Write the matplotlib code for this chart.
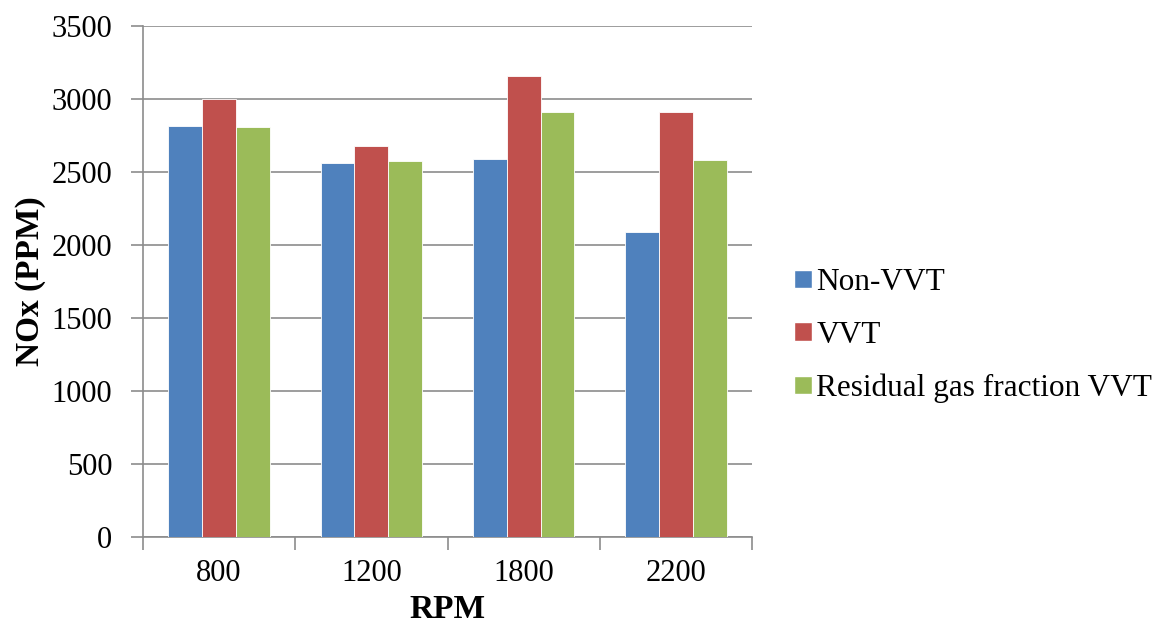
import numpy as np
import matplotlib.pyplot as plt
from matplotlib.patches import Patch

# NOx emissions per engine speed
rpm_labels = ['800', '1200', '1800', '2200']
non_vvt = [2817, 2564, 2591, 2091]
vvt = [3000, 2678, 3155, 2909]
residual_vvt = [2810, 2573, 2913, 2582]

series_names = ['Non-VVT', 'VVT', 'Residual gas fraction VVT']
series_colors = ['#4F81BD', '#C0504D', '#9BBB59']

plt.rcParams['font.family'] = ['Liberation Serif', 'DejaVu Serif']

fig = plt.figure(figsize=(11.67, 6.33), dpi=100)
ax = fig.add_axes([0.1225, 0.1517, 0.522, 0.8072])

x = np.arange(len(rpm_labels))
bar_w = 0.222
for i, (vals, col) in enumerate(zip([non_vvt, vvt, residual_vvt], series_colors)):
    ax.bar(x + (i - 1) * bar_w, vals, width=bar_w, color=col,
           edgecolor='white', linewidth=0.6, zorder=3)

grid_col = '#8c8c8c'
ax.set_ylim(0, 3500)
ax.set_yticks(np.arange(0, 3501, 500))
ax.yaxis.grid(True, color=grid_col, linewidth=1.2, zorder=0)
ax.set_xlim(-0.5, len(rpm_labels) - 0.5)

# category labels centred, ticks on the boundaries
ax.set_xticks(x)
ax.set_xticklabels(rpm_labels)
ax.tick_params(axis='x', which='major', length=0, pad=16, labelsize=22)
ax.set_xticks(np.arange(-0.5, len(rpm_labels)), minor=True)
ax.tick_params(axis='x', which='minor', length=9, width=1.2, color=grid_col)
ax.tick_params(axis='y', length=9, width=1.2, color=grid_col, labelsize=22, pad=13)

for side in ['top', 'right']:
    ax.spines[side].set_visible(False)
for side in ['left', 'bottom']:
    ax.spines[side].set_color(grid_col)
    ax.spines[side].set_linewidth(1.2)

ax.set_xlabel('RPM', fontsize=24, fontweight='bold', labelpad=4)
ax.set_ylabel('NOx (PPM)', fontsize=24, fontweight='bold', labelpad=4)

handles = [Patch(facecolor=c, edgecolor='white') for c in series_colors]
fig.legend(handles, series_names, loc='center left', bbox_to_anchor=(0.670, 0.470),
           frameon=False, fontsize=22.5, handlelength=0.55, handleheight=0.55,
           handletextpad=0.15, labelspacing=0.76, borderaxespad=0)

fig.savefig('out.png', dpi=100)
